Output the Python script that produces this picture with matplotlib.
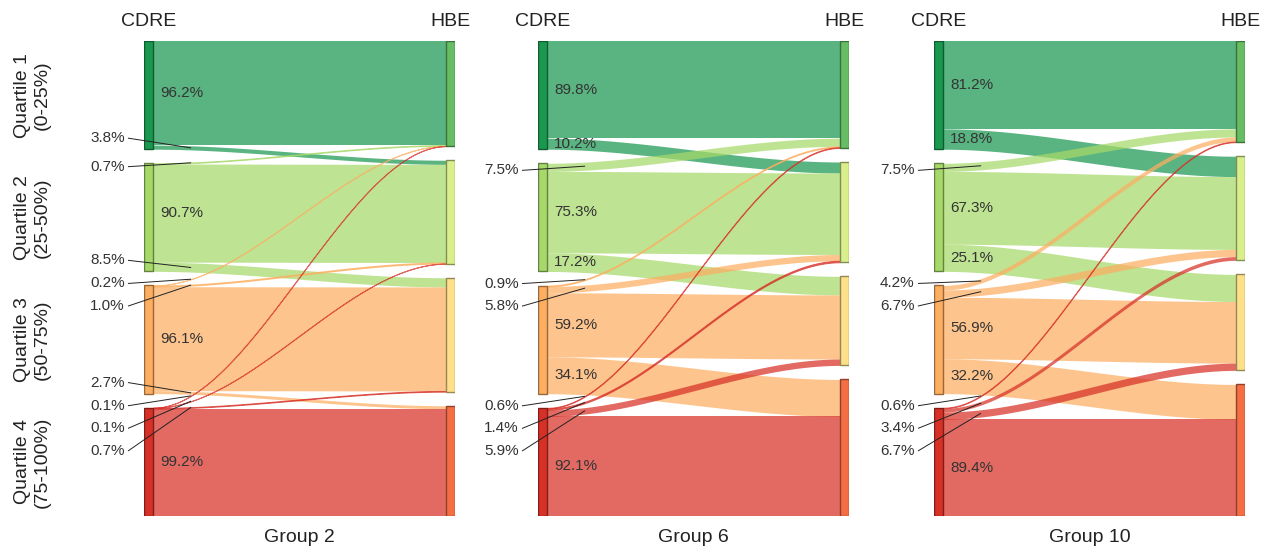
import numpy as np
import matplotlib.pyplot as plt
from matplotlib.patches import Rectangle
from matplotlib.colors import to_rgb
from matplotlib.transforms import blended_transform_factory

plt.rcParams['font.family'] = ['Liberation Sans', 'DejaVu Sans']

groups = ["Group 2", "Group 6", "Group 10"]
quartile_names = ["Quartile 1\n(0-25%)", "Quartile 2\n(25-50%)",
                  "Quartile 3\n(50-75%)", "Quartile 4\n(75-100%)"]

# share (%) of each CDRE quartile (rows) that falls in each HBE quartile (cols)
group2 = [[96.2, 3.8, 0.0, 0.0],
          [0.7, 90.7, 8.5, 0.0],
          [0.2, 1.0, 96.1, 2.7],
          [0.1, 0.1, 0.7, 99.2]]
group6 = [[89.8, 10.2, 0.0, 0.0],
          [7.5, 75.3, 17.2, 0.0],
          [0.9, 5.8, 59.2, 34.1],
          [0.6, 1.4, 5.9, 92.1]]
group10 = [[81.2, 18.8, 0.0, 0.0],
           [7.5, 67.3, 25.1, 0.0],
           [4.2, 6.7, 56.9, 32.2],
           [0.6, 3.4, 6.7, 89.4]]

cdre_colors = ["#1a9850", "#a6d96a", "#fdae61", "#d73027"]
hbe_colors = ["#66bd63", "#d9ef8b", "#fee08b", "#f46d43"]

gap = 13.0          # space between stacked nodes, in % units
node_w = 9 / 311    # node width as fraction of panel width
txt_color = "#333333"
panel_left = [144, 538, 934]   # pixel position of each panel


def darker(c, f=0.6):
    r, g, b = to_rgb(c)
    return (r * f, g * f, b * f)


def stack(sizes):
    tops = []
    y = 0.0
    for s in sizes:
        tops.append(y)
        y += s + gap
    return tops


def draw_sankey(ax, flows):
    flows = np.array(flows)
    left_sizes = flows.sum(axis=1)
    right_sizes = flows.sum(axis=0)
    left_tops = stack(left_sizes)
    right_tops = stack(right_sizes)
    total = left_tops[-1] + left_sizes[-1]
    px = 475 / total   # pixels per unit

    x0, x1 = node_w, 1 - node_w
    xs = np.linspace(x0, x1, 200)
    t = (xs - x0) / (x1 - x0)
    s = t * t * (3 - 2 * t)

    # offsets of each flow at both ends
    left_off = [[0.0] * 4 for _ in range(4)]
    right_off = [[0.0] * 4 for _ in range(4)]
    for i in range(4):
        y = left_tops[i]
        for j in range(4):
            left_off[i][j] = y
            y += flows[i, j]
    for j in range(4):
        y = right_tops[j]
        for i in range(4):
            right_off[i][j] = y
            y += flows[i, j]

    for i in range(4):
        for j in range(4):
            v = flows[i, j]
            if v <= 0:
                continue
            top = left_off[i][j] + (right_off[i][j] - left_off[i][j]) * s
            bot = top + v
            lw = 0.7 if v < 1.5 else 0
            ax.fill_between(xs, top, bot, color=cdre_colors[i], alpha=0.72,
                            lw=lw, zorder=1)

    for i in range(4):
        ax.add_patch(Rectangle((0, left_tops[i]), node_w, left_sizes[i],
                               facecolor=cdre_colors[i],
                               edgecolor=darker(cdre_colors[i]), lw=1, zorder=3))
        ax.add_patch(Rectangle((1 - node_w, right_tops[i]), node_w, right_sizes[i],
                               facecolor=hbe_colors[i],
                               edgecolor=darker(hbe_colors[i]), lw=1, zorder=3))

    # percentage labels
    x_end = 0.15
    t_end = (x_end - x0) / (x1 - x0)
    s_end = t_end * t_end * (3 - 2 * t_end)
    for i in range(4):
        upper = [j for j in range(i) if 0 < flows[i, j] < 10]
        lower = [j for j in range(i + 1, 4) if 0 < flows[i, j] < 10]
        for j in range(4):
            v = flows[i, j]
            if v >= 10:
                ax.text(node_w + 7 / 311, left_off[i][j] + v / 2, f"{v:.1f}%",
                        ha="left", va="center", fontsize=11, color=txt_color,
                        zorder=4)
        label_pos = {}
        if len(upper) == 1:
            j = upper[0]
            label_pos[j] = left_off[i][j] + flows[i, j] / 2 + 3 / px
        else:
            for k, j in enumerate(upper):
                label_pos[j] = left_tops[i] + (-2 + 22.5 * k) / px
        for k, j in enumerate(reversed(lower)):
            label_pos[j] = left_tops[i] + left_sizes[i] - (11 + 22.5 * k) / px
        for j, yl in label_pos.items():
            v = flows[i, j]
            yc0 = left_off[i][j] + v / 2
            yc1 = right_off[i][j] + v / 2
            ye = yc0 + (yc1 - yc0) * s_end
            ax.text(-0.062, yl, f"{v:.1f}%", ha="right", va="center",
                    fontsize=11, color=txt_color, zorder=4)
            ax.plot([-0.05, x_end], [yl, ye], color="#222222", lw=0.7,
                    clip_on=False, zorder=4)

    ax.set_xlim(0, 1)
    ax.set_ylim(total, 0)
    ax.axis("off")
    return left_tops, left_sizes


fig = plt.figure(figsize=(12.7, 5.5), dpi=100)
axes = []
for k, (name, data) in enumerate(zip(groups, [group2, group6, group10])):
    ax = fig.add_axes([panel_left[k] / 1270, 34 / 550, 311 / 1270, 475 / 550])
    tops, sizes = draw_sankey(ax, data)
    ax.text(node_w / 2, 1 + 19 / 475, "CDRE", transform=ax.transAxes,
            ha="center", va="center", fontsize=14, color="#222222")
    ax.text(1 - node_w / 2, 1 + 19 / 475, "HBE", transform=ax.transAxes,
            ha="center", va="center", fontsize=14, color="#222222")
    ax.text(0.5, -21 / 475, name, transform=ax.transAxes,
            ha="center", va="center", fontsize=14, color="#222222")
    axes.append((ax, tops, sizes))

ax0, tops0, sizes0 = axes[0]
trans = blended_transform_factory(fig.transFigure, ax0.transData)
for i, q in enumerate(quartile_names):
    fig.text(32 / 1270, tops0[i] + sizes0[i] / 2, q, transform=trans,
             rotation=90, ha="center", va="center", fontsize=14,
             color="#222222", linespacing=1.2, multialignment="center")

fig.savefig("out.png", dpi=100)
